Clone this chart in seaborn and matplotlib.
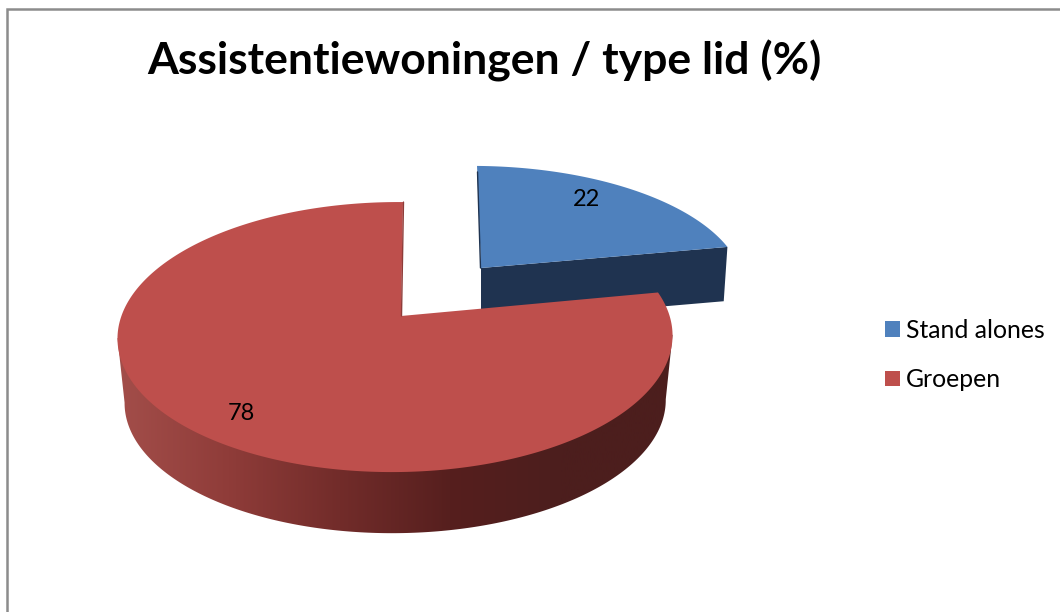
import matplotlib.pyplot as plt
import seaborn as sns
import numpy as np
from matplotlib.patches import Patch, Polygon

categories = ["Stand alones", "Groepen"]
values = [22, 78]
title = "Assistentiewoningen / type lid (%)"

colors = ["#4f81bd", "#be4f4c"]
blue_side = "#1f3350"
red_side_stops = ["#a34e4a", "#8f3c39", "#722c2a", "#561f1e", "#4c1e1d", "#4c1e1d"]

# tilted disc -> page pixels: apex, half axes, skew, perspective
blue_disc = dict(x0=481, y0=268, a=264, b=118, s=4.6, k=-0.156, m=0.02)
red_disc = dict(x0=401, y0=316, a=274, b=131.7, s=-2.3, k=-0.156, m=0.02)
blue_depth = dict(dz=54, scale=0.985)
red_depth = dict(dz=65, scale=0.975)


def project(theta, r, disc, dz=0, scale=1.0):
    u = r * np.sin(theta)
    v = -r * np.cos(theta)
    w = 1 + disc["k"] * v + disc["m"] * u
    x = disc["x0"] + scale * (disc["a"] * u + disc["s"] * v) / w
    y = disc["y0"] + dz + scale * disc["b"] * v / w
    return x, y


edges = np.cumsum([0] + values) / sum(values) * 2 * np.pi
blue_t = np.linspace(edges[0], edges[1], 120)
red_t = np.linspace(edges[1], edges[2], 400)

sns.set_theme(style="white")
plt.rcParams["font.family"] = ["Lato", "DejaVu Sans"]

fig = plt.figure(figsize=(10.6, 6.12), dpi=100)
ax = fig.add_axes([0, 0, 1, 1])
ax.axis("off")

# chart frame, only left and top are in the crop
ax.plot([7, 7, 1060], [612, 8.5, 8.5], color="#8c8c8c", lw=1.8, solid_joinstyle="miter")

# blue slice: front wall, then face
tx, ty = project(edges[1], 1, blue_disc)
bx, by = project(edges[1], 1, blue_disc, **blue_depth)
ax.fill([blue_disc["x0"], tx, bx, blue_disc["x0"]],
        [blue_disc["y0"], ty, by, blue_disc["y0"] + blue_depth["dz"]],
        color=blue_side, lw=0)
ex, ey = project(edges[0], 1, blue_disc)
ax.plot([ex + 0.5, blue_disc["x0"] - 0.5], [ey + 6, blue_disc["y0"]], color=blue_side, lw=1)
x, y = project(blue_t, 1, blue_disc)
ax.fill(np.r_[blue_disc["x0"], x], np.r_[blue_disc["y0"], y], color=colors[0], lw=0)

# red slice: rim as a left to right gradient clipped to the wall outline, then face
x_top, y_top = project(red_t, 1, red_disc)
x_bot, y_bot = project(red_t, 1, red_disc, **red_depth)
i_r, i_l = np.argmax(x_top), np.argmin(x_top)
j_r, j_l = np.argmax(x_bot), np.argmin(x_bot)
wall_x = np.r_[x_top[i_r], x_bot[j_r:j_l + 1], x_top[i_l]]
wall_y = np.r_[y_top[i_r], y_bot[j_r:j_l + 1], y_top[i_l]]
wall = Polygon(np.c_[wall_x, wall_y], closed=True, transform=ax.transData,
               facecolor="none", edgecolor="none")
ax.add_patch(wall)
cmap = sns.blend_palette(red_side_stops, 256, as_cmap=True)
img = ax.imshow(np.linspace(0, 1, 256)[None, :], cmap=cmap, aspect="auto",
                extent=(x_top.min(), x_top.max(), 612, 0), interpolation="bilinear")
img.set_clip_path(wall)
ex, ey = project(edges[2], 1, red_disc)
ax.plot([ex + 0.5, red_disc["x0"] + 0.5], [ey, red_disc["y0"]], color="#8f3c39", lw=1)
ax.fill(np.r_[red_disc["x0"], x_top], np.r_[red_disc["y0"], y_top], color=colors[1], lw=0)

ax.set_xlim(0, 1060)
ax.set_ylim(612, 0)

# value labels
ax.text(587, 199, str(values[0]), ha="center", va="center", fontsize=17, color="black")
ax.text(241, 414, str(values[1]), ha="center", va="center", fontsize=17, color="black")

ax.text(484, 61, title, ha="center", va="center", fontsize=32, fontweight="bold", color="black")

handles = [Patch(facecolor=c, edgecolor="none") for c in colors]
ax.legend(handles, categories, loc="center left", bbox_to_anchor=(885, 355),
          bbox_transform=ax.transData, frameon=False, fontsize=17.8, labelcolor="black",
          handlelength=0.6, handleheight=0.6, handletextpad=0.25,
          labelspacing=1.08, borderpad=0, borderaxespad=0)

fig.savefig("out.png", dpi=100)
